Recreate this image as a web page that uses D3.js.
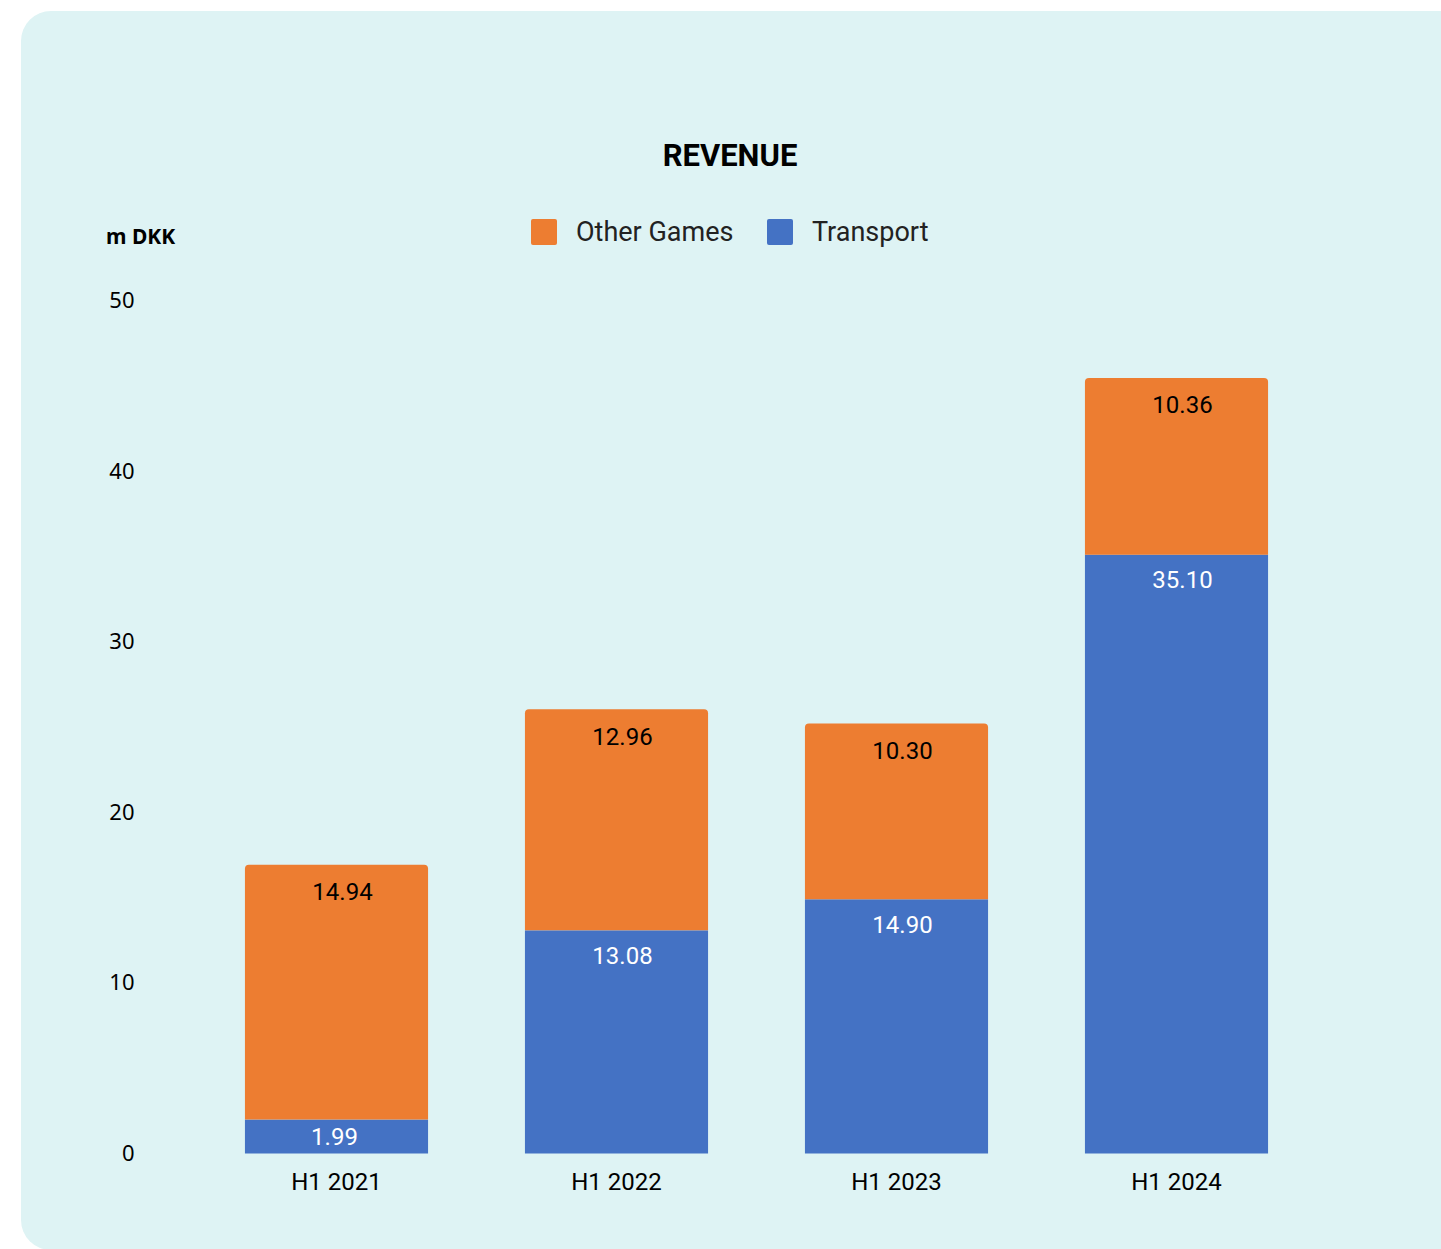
<!DOCTYPE html>
<html><head><meta charset="utf-8">
<script src="https://cdn.jsdelivr.net/npm/d3@7/dist/d3.min.js"></script>
<style>html,body{margin:0;padding:0;background:#fff;overflow:hidden}</style>
</head><body>
<script>
const categories = ["H1 2021", "H1 2022", "H1 2023", "H1 2024"];
const transport = [1.99, 13.08, 14.90, 35.10];
const otherGames = [14.94, 12.96, 10.30, 10.36];
const yTicks = [0, 10, 20, 30, 40, 50];
const seriesNames = ["Other Games", "Transport"];
const seriesColors = ["#ED7D31", "#4472C4"];

const W = 1441, H = 1249;
const svg = d3.select("body").append("svg").attr("width", W).attr("height", H);

// panel
svg.append("rect").attr("x", 21).attr("y", 11).attr("width", 1460).attr("height", 1239)
  .attr("rx", 30).attr("fill", "#DEF3F4");

const y = d3.scaleLinear().domain([0, 50]).range([1153.5, 300.5]);
const x = d3.scaleBand().domain(categories).range([196.5, 1316.5]).paddingInner(0.346).paddingOuter(0.173);

// title
svg.append("text").attr("x", 730).attr("y", 166).attr("text-anchor", "middle")
  .attr("font-family", "Roboto").attr("font-weight", "bold").attr("font-size", 31)
  .attr("fill", "#000").text("REVENUE");

// unit
svg.append("text").attr("x", 106).attr("y", 244)
  .attr("font-family", "Noto Sans").attr("font-weight", "bold").attr("font-size", 21)
  .attr("fill", "#000").text("m DKK");

// legend
const legX = [531, 767];
seriesNames.forEach((n, i) => {
  svg.append("rect").attr("x", legX[i]).attr("y", 219).attr("width", 26).attr("height", 26)
    .attr("rx", 2).attr("fill", seriesColors[i]);
  svg.append("text").attr("x", legX[i] + 45).attr("y", 241)
    .attr("font-family", "Roboto").attr("font-size", 27).attr("fill", "#222").text(n);
});

// y axis
const yAxis = d3.axisLeft(y).tickValues(yTicks).tickSize(0).tickPadding(0);
const gy = svg.append("g").attr("transform", "translate(134.5,0)").call(yAxis);
gy.select(".domain").remove();
gy.selectAll("text").attr("font-family", "Noto Sans").attr("font-size", 22).attr("fill", "#000");

// x axis
const xAxis = d3.axisBottom(x).tickSize(0).tickPadding(0);
const gx = svg.append("g").attr("transform", "translate(0,1173)").call(xAxis);
gx.select(".domain").remove();
gx.selectAll("text").attr("font-family", "Roboto").attr("font-size", 24).attr("fill", "#000")
  .attr("dy", "0.71em");

const bw = x.bandwidth();
const r = 4;
categories.forEach((c, i) => {
  const x0 = x(c);
  const t = transport[i], o = otherGames[i];
  // transport
  svg.append("rect").attr("x", x0).attr("y", y(t)).attr("width", bw).attr("height", y(0) - y(t))
    .attr("fill", seriesColors[1]);
  // other games with rounded top
  const yt = y(t + o), yb = y(t);
  const p = d3.path();
  p.moveTo(x0, yb);
  p.lineTo(x0, yt + r);
  p.arcTo(x0, yt, x0 + r, yt, r);
  p.lineTo(x0 + bw - r, yt);
  p.arcTo(x0 + bw, yt, x0 + bw, yt + r, r);
  p.lineTo(x0 + bw, yb);
  p.closePath();
  svg.append("path").attr("d", p.toString()).attr("fill", seriesColors[0]);

  const cx = x0 + bw / 2 + 6;
  svg.append("text").attr("x", cx).attr("y", yt + 27).attr("dy", "0.35em")
    .attr("text-anchor", "middle").attr("font-family", "Roboto").attr("font-size", 24)
    .attr("fill", "#000").text(o.toFixed(2));
  const by = Math.min(yb + 25, (yb + y(0)) / 2);
  svg.append("text").attr("x", t < 5 ? x0 + bw / 2 - 2 : cx).attr("y", by).attr("dy", "0.35em")
    .attr("text-anchor", "middle").attr("font-family", "Roboto").attr("font-size", 24)
    .attr("fill", "#fff").text(t.toFixed(2));
});
</script>
</body></html>
